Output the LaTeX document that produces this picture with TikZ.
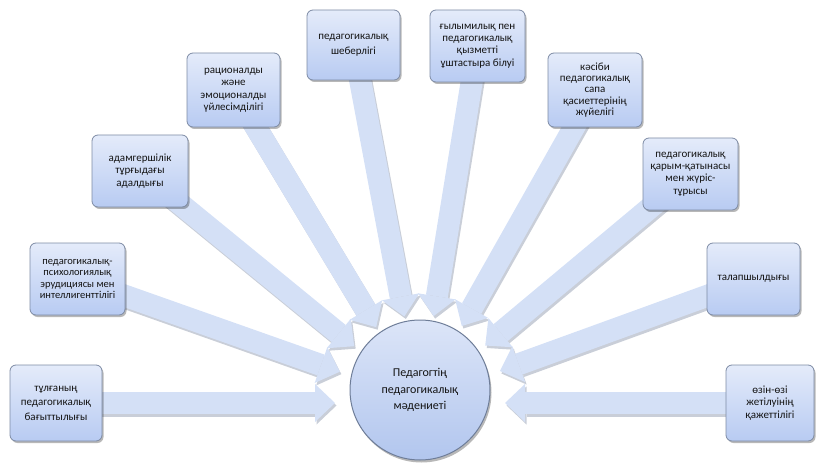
\documentclass[tikz,border=0pt]{standalone}
\usepackage{fontspec}
\setmainfont{Carlito}
\usetikzlibrary{arrows.meta,shadows,calc}
\pgfdeclarelayer{bg}
\pgfsetlayers{bg,main}
\definecolor{boxtop}{HTML}{E4EBFA}
\definecolor{boxbot}{HTML}{B8CBF2}
\definecolor{boxline}{HTML}{7D8BA4}
\definecolor{hubtop}{HTML}{DCE5F8}
\definecolor{hubbot}{HTML}{B2C6EE}
\definecolor{hubline}{HTML}{6E7D98}
\definecolor{arrfill}{HTML}{D4E0F6}
\definecolor{arrshadow}{HTML}{C9CED8}
\definecolor{txt}{HTML}{141414}
\tikzset{
  box/.style={draw=boxline, line width=0.8pt, rounded corners=6pt,
    top color=boxtop, bottom color=boxbot, align=center, text=txt,
    font=\fontsize{11}{12.5}\selectfont, inner sep=2pt,
    minimum width=93pt, minimum height=72pt,
    drop shadow={shadow xshift=1.5pt, shadow yshift=-2pt, fill=black, opacity=.28}},
  hub/.style={circle, draw=hubline, line width=1pt, top color=hubtop,
    bottom color=hubbot, align=center, text=txt, minimum size=140pt,
    font=\fontsize{12}{16.5}\selectfont,
    drop shadow={shadow xshift=1.5pt, shadow yshift=-2.5pt, fill=black, opacity=.28}},
  bigarrow/.style={line width=22pt, draw=arrfill,
    -{Triangle[width=38pt,length=20pt,line width=0pt 0 0]}, shorten >=85pt},
  arrshade/.style={bigarrow, draw=arrshadow,
    transform canvas={shift={(1.5pt,-2.5pt)}}}
}
\begin{document}
\begin{tikzpicture}[x=1pt,y=-1pt]
\useasboundingbox (0,0) rectangle (820,468);
\node[hub] (c) at (420,390) {Педагогтің\\педагогикалық\\мәдениеті};
\coordinate (t) at (420,400);
\node[box, minimum width=92pt, minimum height=76pt, font=\fontsize{11}{14.5}\selectfont] (b1) at (56,403) {тұлғаның\\педагогикалық\\бағыттылығы};
\node[box, minimum width=95pt, font=\fontsize{10.5}{11.5}\selectfont] (b2) at (77.5,279) {педагогикалық-\\психологиялық\\эрудициясы мен\\интеллигенттілігі};
\node[box, minimum width=96pt, font=\fontsize{11}{12.2}\selectfont] (b3) at (140,171) {адамгершілік\\тұрғыдағы\\адалдығы};
\node[box, minimum height=74pt] (b4) at (233.5,90) {рационалды\\және\\эмоционалды\\үйлесімділігі};
\node[box, minimum height=70pt, font=\fontsize{11}{15}\selectfont] (b5) at (353.5,45) {педагогикалық\\шеберлігі};
\node[box, minimum width=95pt, font=\fontsize{11}{12.2}\selectfont] (b6) at (477.5,46) {ғылымилық пен\\педагогикалық\\қызметті\\ұштастыра білуі};
\node[box, minimum width=94pt, minimum height=74pt, font=\fontsize{11}{11.3}\selectfont] (b7) at (595,90) {кәсіби\\педагогикалық\\сапа\\қасиеттерінің\\жүйелігі};
\node[box, minimum width=95pt, font=\fontsize{11}{12.2}\selectfont] (b8) at (690.5,174) {педагогикалық\\қарым-қатынасы\\мен жүріс-\\тұрысы};
\node[box] (b9) at (753.5,279) {талапшылдығы};
\node[box, minimum width=88pt, minimum height=76pt] (b10) at (770,403) {өзін-өзі\\жетілуінің\\қажеттілігі};
\begin{pgfonlayer}{bg}
  \foreach \b in {b2,b3,b4,b5,b6,b7,b8,b9}
    \draw[arrshade] (\b.center) -- (t);
  \draw[arrshade] (b1.center) -- (b1 -| t);
  \draw[arrshade] (b10.center) -- (b10 -| t);
  \foreach \b in {b2,b3,b4,b5,b6,b7,b8,b9}
    \draw[bigarrow] (\b.center) -- (t);
  \draw[bigarrow] (b1.center) -- (b1 -| t);
  \draw[bigarrow] (b10.center) -- (b10 -| t);
\end{pgfonlayer}
\end{tikzpicture}
\end{document}
